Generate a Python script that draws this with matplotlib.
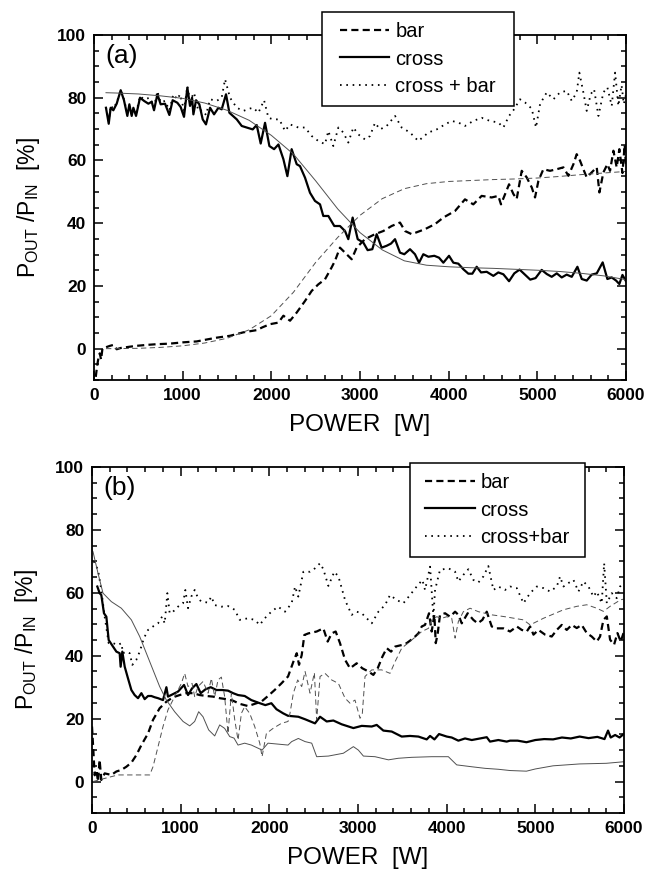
import matplotlib
matplotlib.use("Agg")
import matplotlib.pyplot as plt
from matplotlib.ticker import MultipleLocator
from matplotlib.path import Path

plt.rcParams['font.family'] = ['Liberation Sans', 'DejaVu Sans']
plt.rcParams['mathtext.fontset'] = 'custom'
plt.rcParams['mathtext.rm'] = 'Liberation Sans'
plt.rcParams['mathtext.default'] = 'regular'

# ---------------- Panel (a) data ----------------
cross_a_x = [135, 166, 188, 218, 256, 301, 338, 376, 399, 425, 444, 474, 519, 564, 613, 651, 677, 715, 752, 801,
             850, 887, 940, 978, 1015, 1053, 1083, 1106, 1121, 1151, 1188, 1226, 1263, 1309, 1354, 1403, 1440, 1489,
             1527, 1610, 1666, 1722, 1790, 1835, 1880, 1929, 1978, 2031, 2080, 2136, 2181, 2229, 2286, 2323, 2380,
             2436, 2492, 2549, 2586, 2643, 2710, 2774, 2831, 2868, 2917, 2974, 3038, 3086, 3139, 3188, 3244, 3301,
             3350, 3395, 3451, 3500, 3564, 3620, 3666, 3714, 3771, 3838, 3891, 3940, 4004, 4053, 4109, 4166, 4222,
             4267, 4316, 4365, 4429, 4504, 4560, 4617, 4681, 4740, 4800, 4860, 4920, 4980, 5049, 5106, 5162, 5219,
             5275, 5331, 5388, 5452, 5501, 5557, 5613, 5670, 5737, 5790, 5839, 5888, 5925, 5960, 6000]
cross_a_y = [76.8, 71.7, 76.8, 76.0, 78.1, 82.4, 79.2, 74.2, 77.9, 74.2, 76.8, 74.2, 80.0, 79.0, 78.1, 78.7, 76.0,
             81.1, 77.9, 78.1, 74.5, 79.2, 78.4, 77.0, 73.9, 83.2, 77.4, 80.0, 74.7, 79.2, 77.9, 73.1, 71.5, 76.8,
             74.7, 76.8, 76.3, 81.1, 75.2, 73.1, 71.0, 70.5, 69.9, 71.3, 65.4, 72.0, 64.6, 63.6, 65.1, 60.4, 55.0,
             63.6, 58.8, 58.2, 54.5, 49.7, 47.1, 46.0, 42.3, 42.3, 39.1, 39.1, 37.5, 34.9, 41.8, 34.9, 33.8, 31.4,
             31.7, 36.5, 32.2, 32.8, 33.5, 34.9, 30.6, 30.1, 31.7, 30.1, 27.4, 30.1, 29.3, 29.6, 29.0, 27.4, 29.6,
             27.4, 27.1, 25.3, 23.9, 23.9, 26.1, 24.3, 24.5, 23.2, 24.3, 23.7, 21.5, 24.0, 25.2, 23.6, 22.0, 22.5,
             25.1, 23.8, 22.9, 24.0, 22.7, 23.6, 22.9, 26.1, 22.2, 21.7, 23.6, 24.0, 27.5, 22.2, 22.7, 21.7, 20.6,
             23.5, 21.5]

bar_a_x = [20, 35, 50, 65, 80, 95, 140, 181, 220, 256, 300, 400, 481, 600, 700, 857, 1000, 1158, 1250, 1384, 1534,
           1685, 1835, 1900, 1985, 2080, 2136, 2211, 2286, 2380, 2455, 2530, 2605, 2680, 2718, 2774, 2831, 2906,
           2962, 3056, 3169, 3263, 3357, 3451, 3508, 3583, 3733, 3846, 3940, 4072, 4184, 4278, 4372, 4485, 4560,
           4590, 4681, 4730, 4767, 4824, 4880, 4937, 4974, 5012, 5068, 5143, 5218, 5294, 5350, 5407, 5444, 5482,
           5519, 5557, 5613, 5670, 5700, 5745, 5790, 5820, 5858, 5895, 5925, 5960, 5985, 6000]
bar_a_y = [-9.0, -5.5, -3.0, -1.5, -3.5, 0.0, 0.5, 0.9, 1.2, -0.2, 0.2, 0.6, 0.9, 1.2, 1.4, 1.6, 2.0, 2.3, 2.8, 3.5,
           4.1, 5.2, 5.9, 6.8, 7.8, 8.3, 10.5, 8.9, 11.5, 15.2, 18.4, 20.5, 22.1, 25.9, 28.0, 32.2, 30.6, 28.5,
           32.2, 34.9, 36.5, 37.5, 39.1, 40.2, 37.5, 36.5, 38.1, 39.7, 41.8, 43.9, 47.6, 46.0, 48.7, 48.2, 48.7,
           46.0, 52.4, 49.3, 47.7, 56.7, 54.6, 51.4, 48.2, 53.5, 57.2, 56.7, 57.2, 57.8, 55.1, 58.8, 62.0, 59.9,
           57.2, 54.6, 56.2, 57.8, 49.8, 56.2, 58.8, 56.7, 63.1, 57.8, 63.6, 56.0, 65.0, 58.0]

sum_a_x = [135, 166, 188, 218, 256, 301, 338, 376, 425, 474, 519, 564, 632, 677, 715, 752, 801, 850, 895, 940, 970,
           1015, 1053, 1083, 1128, 1177, 1226, 1263, 1309, 1384, 1440, 1478, 1534, 1610, 1685, 1750, 1797, 1854,
           1918, 1967, 2023, 2090, 2155, 2210, 2304, 2380, 2455, 2530, 2605, 2643, 2699, 2756, 2812, 2868, 2925,
           2981, 3056, 3113, 3169, 3226, 3301, 3395, 3470, 3564, 3658, 3771, 3865, 3959, 4034, 4109, 4184, 4278,
           4372, 4466, 4560, 4617, 4681, 4730, 4805, 4861, 4937, 4985, 5031, 5106, 5181, 5256, 5331, 5388, 5444,
           5474, 5519, 5557, 5602, 5640, 5689, 5745, 5790, 5839, 5877, 5914, 5950, 5975, 6000]
sum_a_y = [77.0, 72.5, 77.5, 76.5, 78.5, 82.5, 79.5, 75.0, 75.0, 75.0, 80.5, 79.5, 80.0, 77.0, 82.1, 78.5, 79.0,
           76.0, 81.1, 79.5, 81.1, 76.0, 83.7, 79.0, 81.6, 75.8, 76.0, 74.5, 79.5, 79.0, 80.0, 85.9, 80.0, 76.8,
           75.8, 76.5, 76.8, 75.2, 79.2, 73.6, 73.1, 73.1, 69.4, 71.5, 70.5, 70.5, 67.8, 66.2, 65.2, 69.4, 64.6,
           70.5, 68.9, 65.7, 70.5, 68.3, 66.7, 67.8, 72.0, 69.9, 71.0, 74.2, 70.5, 68.9, 66.2, 68.9, 69.9, 71.5,
           72.6, 72.1, 71.0, 72.6, 73.6, 72.6, 72.1, 70.5, 74.2, 76.0, 79.5, 78.5, 76.5, 70.5, 78.0, 81.7, 79.5,
           81.7, 82.2, 79.0, 81.7, 88.0, 81.7, 75.8, 81.1, 82.7, 74.2, 81.7, 83.3, 77.4, 88.0, 77.4, 84.0, 78.0,
           81.0]

fit_a_x = [135, 250, 500, 750, 1000, 1250, 1500, 1750, 2000, 2250, 2500, 2750, 3000, 3250, 3500, 3750, 4000, 4250,
           4500, 4750, 5000, 5250, 5500, 5750, 6000]
fit_cross_a = [81.6, 81.5, 81.2, 80.6, 79.8, 78.3, 76.0, 72.8, 68.0, 62.0, 53.5, 44.5, 37.0, 31.5, 28.0, 26.6, 26.1,
               25.8, 25.6, 25.3, 25.0, 24.6, 24.0, 23.2, 22.0]
fit_bar_a = [0.0, 0.0, 0.1, 0.4, 0.9, 1.8, 3.3, 6.0, 10.5, 18.0, 27.5, 35.5, 42.5, 47.8, 51.0, 52.6, 53.3, 53.6,
             53.9, 54.1, 54.4, 54.9, 55.5, 56.0, 56.5]

# ---------------- Panel (b) data ----------------
cross_b_x = [60, 86, 105, 135, 162, 188, 237, 275, 312, 323, 342, 369, 406, 444, 481, 519, 557, 594, 632, 669, 707,
             745, 801, 839, 857, 914, 970, 1038, 1083, 1128, 1177, 1226, 1279, 1339, 1403, 1467, 1534, 1591, 1647,
             1722, 1797, 1873, 1955, 2023, 2080, 2155, 2211, 2327, 2403, 2515, 2572, 2647, 2722, 2816, 2948, 3042,
             3155, 3211, 3286, 3380, 3493, 3587, 3681, 3775, 3813, 3862, 3914, 4001, 4057, 4132, 4207, 4283, 4377,
             4452, 4489, 4583, 4677, 4715, 4800, 4900, 5000, 5100, 5200, 5300, 5400, 5500, 5600, 5700, 5780, 5820,
             5850, 5900, 5950, 6000]
cross_b_y = [62.0, 59.9, 59.3, 53.5, 52.4, 45.0, 42.9, 41.3, 40.8, 36.5, 41.3, 36.5, 32.8, 29.1, 27.5, 26.5, 28.1,
             26.2, 27.2, 27.2, 26.8, 26.5, 25.9, 30.0, 27.0, 27.8, 28.6, 30.7, 27.5, 29.6, 31.0, 28.1, 29.3, 30.0,
             29.1, 29.1, 28.9, 28.1, 27.5, 27.2, 25.9, 25.1, 24.3, 24.9, 23.0, 21.7, 20.9, 20.6, 19.8, 18.5, 20.6,
             19.1, 19.4, 18.2, 17.0, 17.7, 17.5, 18.0, 16.2, 15.9, 14.3, 14.5, 14.3, 13.4, 14.5, 13.4, 15.1, 14.3,
             14.0, 13.0, 13.7, 13.2, 13.7, 14.1, 12.7, 13.2, 12.7, 13.0, 13.0, 12.5, 13.2, 13.5, 13.4, 14.0, 13.7,
             14.3, 13.8, 14.2, 13.5, 16.2, 14.0, 14.8, 14.0, 15.2]

bar_b_x = [0, 15, 30, 49, 68, 86, 105, 143, 218, 275, 331, 387, 444, 500, 557, 632, 688, 763, 839, 914, 989, 1064,
           1139, 1214, 1290, 1365, 1440, 1515, 1591, 1666, 1760, 1835, 1910, 1985, 2060, 2136, 2211, 2271, 2309,
           2335, 2365, 2395, 2440, 2534, 2609, 2658, 2703, 2748, 2797, 2854, 2910, 2985, 3049, 3117, 3173, 3222,
           3275, 3324, 3373, 3418, 3493, 3549, 3625, 3681, 3719, 3756, 3801, 3831, 3861, 3877, 3899, 3925, 3982,
           4038, 4095, 4132, 4170, 4237, 4301, 4350, 4403, 4452, 4508, 4564, 4640, 4715, 4791, 4847, 4903, 4941,
           4979, 5035, 5110, 5185, 5242, 5298, 5354, 5411, 5467, 5523, 5580, 5636, 5693, 5730, 5768, 5806, 5843,
           5888, 5926, 5963, 6000]
bar_b_y = [17.5, 10.0, 2.0, 3.7, 0.0, 6.9, 0.5, 2.6, 2.1, 3.2, 3.7, 4.7, 6.0, 8.4, 11.6, 15.3, 19.6, 23.3, 25.4,
           26.8, 27.5, 28.1, 28.1, 27.5, 27.2, 27.0, 26.5, 26.2, 25.7, 24.7, 24.0, 24.7, 25.4, 27.2, 29.1, 31.2,
           33.4, 38.1, 40.8, 37.1, 40.2, 46.6, 47.1, 47.7, 48.7, 44.5, 47.1, 47.7, 44.0, 38.7, 36.0, 37.6, 36.0,
           35.0, 33.9, 36.0, 39.7, 42.4, 41.3, 42.9, 43.4, 44.0, 45.6, 47.1, 49.3, 49.8, 53.5, 47.7, 53.0, 44.0,
           47.1, 53.0, 53.5, 52.4, 54.0, 53.0, 50.3, 53.5, 51.4, 50.3, 51.4, 54.0, 49.3, 48.7, 48.7, 47.7, 49.3,
           48.2, 47.7, 49.3, 46.7, 48.2, 46.7, 46.1, 48.2, 49.8, 48.2, 49.8, 48.8, 49.8, 47.2, 46.1, 44.5, 46.1,
           51.4, 52.5, 45.1, 43.5, 47.2, 44.5, 47.7]

sum_b_x = [20, 68, 105, 143, 188, 237, 293, 331, 350, 387, 425, 455, 500, 538, 586, 632, 688, 745, 790, 820, 850,
           876, 914, 970, 1027, 1053, 1083, 1120, 1158, 1196, 1233, 1309, 1346, 1384, 1459, 1534, 1610, 1666, 1760,
           1835, 1892, 1948, 2023, 2098, 2177, 2252, 2290, 2327, 2384, 2459, 2515, 2572, 2609, 2666, 2733, 2779,
           2854, 2929, 2985, 3042, 3155, 3230, 3305, 3361, 3437, 3512, 3587, 3662, 3726, 3756, 3813, 3850, 3869,
           3925, 4019, 4095, 4132, 4188, 4245, 4301, 4358, 4414, 4470, 4527, 4583, 4658, 4715, 4791, 4866, 4941,
           5016, 5091, 5167, 5242, 5279, 5317, 5373, 5430, 5486, 5542, 5599, 5655, 5693, 5749, 5776, 5806, 5862,
           5918, 5956, 5986]
sum_b_y = [70.0, 67.3, 60.9, 52.4, 44.0, 44.0, 43.4, 44.0, 40.8, 41.3, 40.8, 37.1, 38.7, 41.3, 45.6, 48.2, 49.3,
           50.3, 52.4, 50.3, 59.9, 53.5, 54.0, 55.6, 56.7, 60.9, 55.1, 58.8, 60.9, 58.3, 57.2, 56.9, 58.8, 56.1,
           55.6, 55.8, 54.6, 51.4, 51.9, 51.4, 49.8, 51.9, 54.0, 55.6, 54.0, 56.7, 62.0, 58.8, 66.7, 66.7, 67.8,
           69.4, 67.5, 62.2, 66.7, 65.2, 57.7, 53.0, 54.0, 53.5, 50.3, 54.0, 56.1, 59.3, 57.7, 56.7, 59.3, 62.0,
           64.1, 60.9, 68.3, 52.4, 60.9, 67.3, 67.8, 66.7, 63.6, 65.7, 67.5, 64.1, 63.3, 65.2, 68.5, 60.9, 62.0,
           60.9, 62.0, 61.5, 56.7, 59.9, 62.0, 61.5, 60.4, 62.0, 65.2, 62.0, 63.1, 64.1, 60.4, 63.6, 62.0, 58.8,
           60.4, 56.7, 69.4, 56.7, 59.9, 58.3, 62.0, 63.1]

sim_cross_b_x = [0, 11, 68, 124, 218, 331, 444, 538, 613, 688, 763, 839, 932, 1027, 1102, 1158, 1203, 1252, 1316,
                 1384, 1440, 1496, 1553, 1602, 1647, 1722, 1797, 1873, 1918, 1985, 2098, 2211, 2252, 2327, 2403,
                 2478, 2534, 2666, 2835, 2948, 3004, 3061, 3192, 3343, 3455, 3606, 3831, 4019, 4113, 4283, 4433,
                 4583, 4715, 4900, 5000, 5200, 5500, 5800, 6000]
sim_cross_b_y = [73.5, 73.1, 66.2, 59.9, 57.2, 55.1, 51.4, 46.1, 40.8, 35.5, 30.2, 25.9, 22.2, 19.1, 17.7, 19.1,
                 22.2, 20.6, 16.4, 14.5, 18.0, 16.9, 14.3, 13.8, 11.6, 12.2, 11.6, 10.6, 10.0, 12.2, 11.9, 11.6,
                 12.7, 13.7, 12.7, 12.2, 7.9, 8.1, 9.0, 11.1, 10.0, 8.1, 7.9, 6.9, 7.4, 7.7, 7.9, 7.9, 5.3, 4.7, 4.2,
                 3.9, 3.5, 3.3, 4.0, 5.0, 5.6, 5.8, 6.3]

sim_bar_b_x = [11, 143, 293, 481, 651, 688, 745, 801, 857, 932, 1008, 1045, 1083, 1128, 1158, 1196, 1252, 1309,
               1346, 1384, 1421, 1459, 1496, 1534, 1572, 1610, 1647, 1685, 1722, 1778, 1835, 1892, 1918, 1967, 2042,
               2136, 2211, 2233, 2271, 2320, 2365, 2403, 2459, 2508, 2534, 2572, 2628, 2703, 2779, 2854, 2910, 2966,
               3023, 3049, 3079, 3155, 3267, 3361, 3418, 3493, 3606, 3719, 3794, 3831, 3888, 3944, 4001, 4057, 4095,
               4132, 4188, 4264, 4358, 4508, 4658, 4866, 4941, 5091, 5317, 5467, 5580, 5693, 5768, 5843, 5963, 6000]
sim_bar_b_y = [0.0, 1.0, 2.1, 2.1, 2.1, 4.7, 11.1, 17.5, 22.8, 27.0, 31.2, 34.4, 30.2, 31.2, 27.0, 30.2, 31.8, 28.1,
               32.8, 27.0, 32.3, 33.2, 27.0, 15.3, 28.1, 19.6, 13.2, 21.7, 23.8, 21.7, 17.5, 12.2, 7.9, 15.3, 16.9,
               18.5, 19.1, 21.7, 28.1, 32.3, 30.2, 35.0, 28.1, 34.6, 19.6, 33.4, 34.4, 32.3, 31.2, 26.5, 24.9, 25.9,
               20.1, 21.7, 33.4, 35.5, 35.5, 34.4, 38.1, 42.4, 45.0, 47.7, 48.7, 51.4, 52.4, 51.9, 52.4, 51.9, 45.6,
               50.9, 54.0, 55.1, 54.0, 53.0, 52.4, 51.4, 49.8, 51.9, 54.6, 55.7, 56.2, 55.1, 54.1, 55.7, 57.8, 58.0]

legend_a = ['bar', 'cross', 'cross + bar']
legend_b = ['bar', 'cross', 'cross+bar']
xticks = [0, 1000, 2000, 3000, 4000, 5000, 6000]
yticks = [0, 20, 40, 60, 80, 100]

# ---------------- styles ----------------
THICK = 1.6
THIN = 0.7
DASH_THICK = (0, (3.2, 1.9))
DASH_THIN = (0, (5.5, 3.5))
DOT = (0, (0.9, 2.6))
GREY = '#505050'


class WideSquare:
    def __init__(self, padx):
        self.padx = padx

    def __call__(self, x0, y0, width, height, mutation_size):
        p = self.padx
        return Path([(x0 - p, y0), (x0 + width + p, y0), (x0 + width + p, y0 + height),
                     (x0 - p, y0 + height), (x0 - p, y0)], closed=True)


W, H = 647, 875
fig = plt.figure(figsize=(W / 100, H / 100), dpi=100)
ax_a = fig.add_axes([94 / W, 1 - 380 / H, 532 / W, 345 / H])
ax_b = fig.add_axes([92 / W, 1 - 813 / H, 532 / W, 346 / H])


def style_axis(ax, tag):
    ax.set_xlim(0, 6000)
    ax.set_ylim(-10, 100)
    ax.set_xticks(xticks)
    ax.set_yticks(yticks)
    ax.xaxis.set_minor_locator(MultipleLocator(200))
    ax.yaxis.set_minor_locator(MultipleLocator(5))
    ax.tick_params(which='both', direction='in', top=True, right=True, width=1.1, labelsize=12.5, pad=5.5)
    ax.tick_params(which='major', length=6.5)
    ax.tick_params(which='minor', length=3.5)
    for lab in ax.get_xticklabels() + ax.get_yticklabels():
        lab.set_fontweight('bold')
    for s in ax.spines.values():
        s.set_linewidth(1.3)
    ax.set_xlabel('POWER  [W]', fontsize=17.5, labelpad=8)
    ax.set_ylabel(r'P$_{\mathregular{OUT}}$ /P$_{\mathregular{IN}}$  [%]', fontsize=16.5, labelpad=11)
    ax.text(0.021, 0.975, tag, transform=ax.transAxes, fontsize=19, va='top', ha='left')


# panel (a)
l1, = ax_a.plot(bar_a_x, bar_a_y, color='black', lw=THICK, ls=DASH_THICK)
l2, = ax_a.plot(cross_a_x, cross_a_y, color='black', lw=THICK, ls='-')
l3, = ax_a.plot(sum_a_x, sum_a_y, color='black', lw=1.3, ls=DOT)
ax_a.plot(fit_a_x, fit_bar_a, color=GREY, lw=THIN, ls=DASH_THIN)
ax_a.plot(fit_a_x, fit_cross_a, color=GREY, lw=THIN, ls='-')
style_axis(ax_a, '(a)')

pad_a = 8
leg_a = ax_a.legend([l1, l2, l3], legend_a, loc='upper left',
                    bbox_to_anchor=((322 + pad_a) / W, 1 - 12 / H), bbox_transform=fig.transFigure,
                    fontsize=14.5, handlelength=2.45, handletextpad=0.3, borderpad=0.5, labelspacing=0.42,
                    borderaxespad=0, fancybox=False, framealpha=1, edgecolor='black')
leg_a.get_frame().set_linewidth(1.1)
leg_a.get_frame().set_boxstyle(WideSquare(pad_a))

# panel (b)
m1, = ax_b.plot(bar_b_x, bar_b_y, color='black', lw=THICK, ls=DASH_THICK)
m2, = ax_b.plot(cross_b_x, cross_b_y, color='black', lw=THICK, ls='-')
m3, = ax_b.plot(sum_b_x, sum_b_y, color='black', lw=1.3, ls=DOT)
ax_b.plot(sim_bar_b_x, sim_bar_b_y, color=GREY, lw=THIN, ls=DASH_THIN)
ax_b.plot(sim_cross_b_x, sim_cross_b_y, color=GREY, lw=THIN, ls='-')
style_axis(ax_b, '(b)')

pad_b = 5
leg_b = ax_b.legend([m1, m2, m3], legend_b, loc='upper left',
                    bbox_to_anchor=((410 + pad_b) / W, 1 - 463 / H), bbox_transform=fig.transFigure,
                    fontsize=14.5, handlelength=2.5, handletextpad=0.25, borderpad=0.5, labelspacing=0.42,
                    borderaxespad=0, fancybox=False, framealpha=1, edgecolor='black')
leg_b.get_frame().set_linewidth(1.1)
leg_b.get_frame().set_boxstyle(WideSquare(pad_b))

fig.savefig('out.png', dpi=100)
